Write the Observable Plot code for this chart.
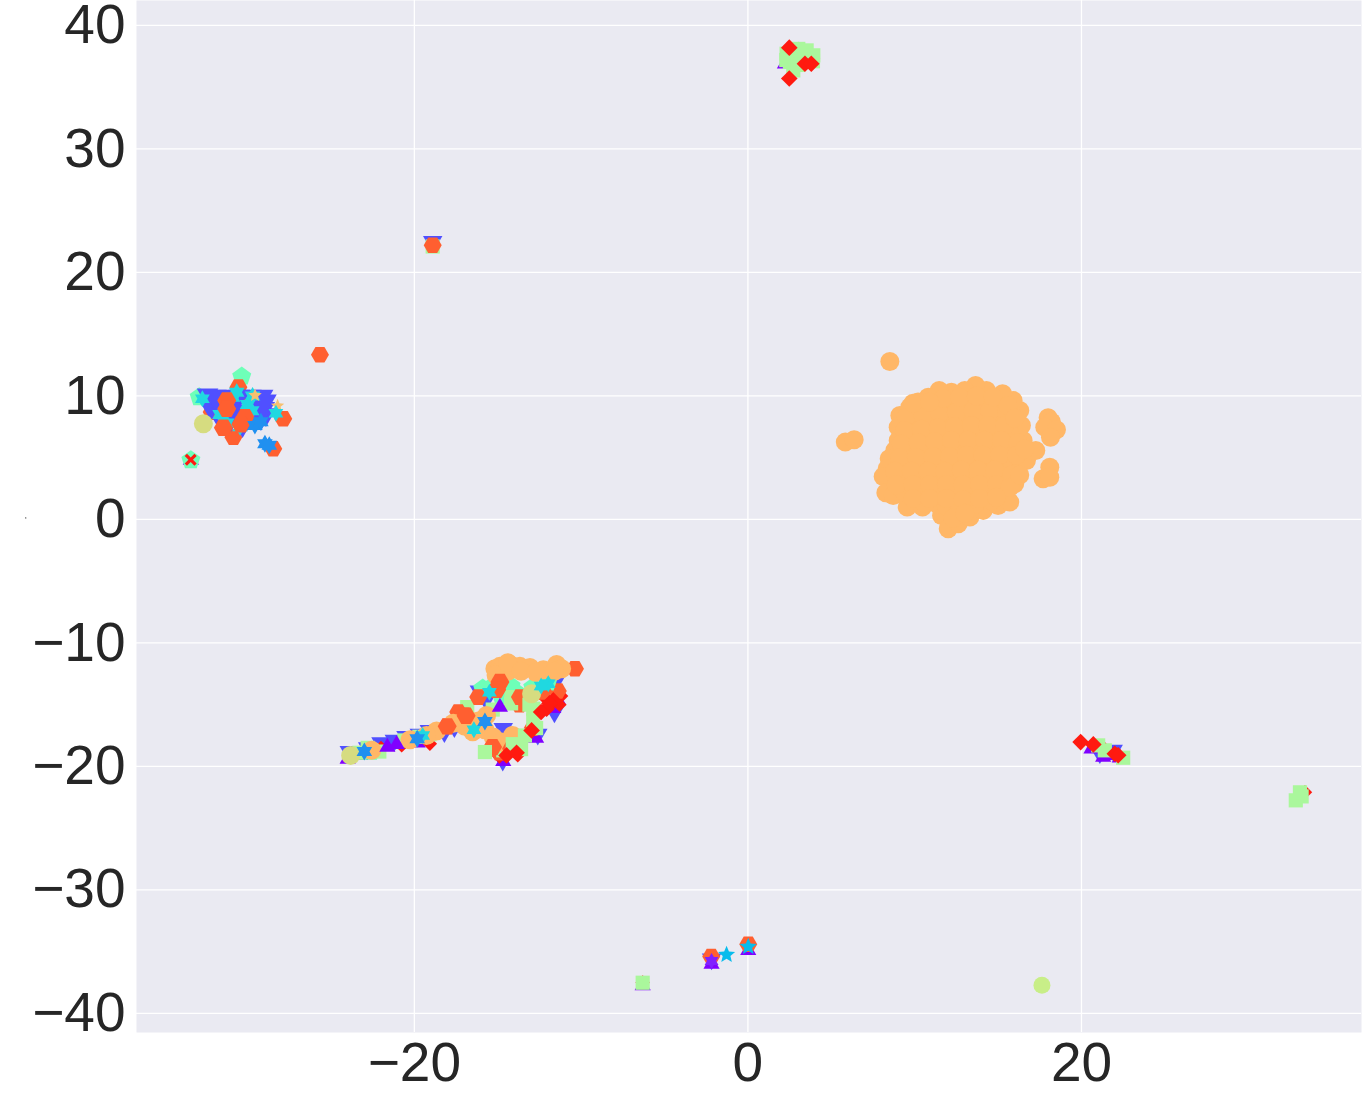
<!DOCTYPE html>
<html><head><meta charset="utf-8">
<script src="https://cdn.jsdelivr.net/npm/d3@7"></script>
<script src="https://cdn.jsdelivr.net/npm/@observablehq/plot@0.6"></script>
<style>html,body{margin:0;padding:0;background:#fff}svg{display:block}</style>
</head><body><div id="chart"></div>
<script>
const xTicks = [-20, 0, 20];
const yTicks = [-40, -30, -20, -10, 0, 10, 20, 30, 40];
const tinyMark = [[-43.3, 0.12]];

const blueDown = [[-18.9,22.5],[-2.18,-35.6],[21.9,-18.7],[21.1,-18.9],[2.6,36.9],[-13.57,-14.25],[-14.67,-16.95],[-22,-18.1],[-20.5,-17.6],[-19.7,-17.4],[-19.1,-17.1],[-23.9,-18.8],[-22.8,-18.5],[-16.1,-13.9],[-15.7,-14.6],[-11.6,-13.3],[-14.7,-19.5],[-11.6,-15.6],[-18.2,-17.2],[-12.6,-17.4],[-21.2,-17.9],[-17.6,-16.8]];
const blueLeft = [[-32.4,10.1],[-31.9,10],[-31.2,10],[-30.5,10],[-29.8,10],[-29.1,10],[-32.2,9],[-31.5,8.6],[-29.5,9.4],[-28.9,9.6],[-29.2,8.2],[-30.5,8.8],[-30,8.2],[-31,8.1],[-31.8,9.5],[-30.9,9.4],[-28.9,8.5],[-31.5,7.8],[-30.3,7.6],[-29.6,8.9],[-29,9],[-29.5,8.3]];
const purpleUp = [[-23.26,-19.1],[-24,-19.4],[-23,-18.9],[-20.4,-18],[-14.67,-19.6],[-11.67,-15.3],[-12.7,-17.7],[-19.8,-18.1],[-11.4,-14.6],[20.6,-18.57],[21.3,-19.25],[21.9,-19.1],[22.3,-19.3],[2.22,36.9],[-6.31,-37.75],[0.02,-34.9],[-2.18,-36],[-33.4,4.8]];
const redUnder = [[3.02,38.1],[3.9,37.3],[-14.9,-19.2],[-13.8,-19.1],[-6.31,-37.5],[-22,-18.5],[-20.76,-18.3],[-19.07,-18.17],[-11.2,-14.3],[-12.2,-14.4],[-11.3,-15],[33.4,-22.1],[21.4,-18.6]];
const tomatoUnder = [[-2.2,-35.4],[-11.4,-13.9],[-12.9,-16.9],[-14.9,-18.9],[-13.7,-15]];
const mintPent = [[-30.35,11.57],[-32.9,9.9],[-33.4,4.8],[-15.9,-13.7],[-15.3,-13.5],[-14.2,-13.5],[-13.9,-14],[-12,-13.2],[-12.9,-13.6],[-22.6,-18.8],[-14.8,-14.3]];
const greenSquare = [[2.32,37.71],[2.3,37.2],[2.9,38],[3.02,38.1],[3.52,37.98],[3.92,37.58],[2.72,36.36],[2.52,37.04],[3.3,37.4],[3,36.8],[3.9,37.1],[21,-18.3],[21.4,-18.7],[22.5,-19.3],[-16.83,-15.2],[-14.67,-18.7],[-14.17,-14.39],[-15.3,-15.4],[-12.87,-15.33],[-14.2,-14.9],[-20.6,-17.9],[-19.1,-17.4],[-22.8,-18.5],[-22.1,-18.8],[33.2,-22.43],[32.85,-22.75],[33.1,-22.1],[-18.9,22.1],[-6.31,-37.52],[-23.3,-18.9],[-19.7,-17.6],[-12.7,-16.9]];
const tomatoHex = [[-25.66,13.33],[-27.86,8.15],[-28.46,5.72],[-32.15,8.69],[-30.85,6.66],[-29.85,9.77],[-30.55,10.71],
  [-18.9,22.2],[0.02,-34.41],[-10.37,-12.09],[-18.03,-16.76],[-16.97,-15.87],[-17.37,-15.6],[-15.07,-13.79],[-14.87,-13.17],[-16.17,-14.39],[-15.31,-18.44],[-14.17,-18.57],[-12.27,-13.98],[-13.67,-14.39],[-16.6,-16.4]];
const orangeDot = [[9.11,8.42],[9.01,7.47],[9.01,6.39],[8.81,5.58],[8.47,4.91],[8.35,4.1],[8.11,3.48],[8.27,2.16],[8.71,1.94],[9.55,1],[10.47,1],[11.61,.32],[12.01,-.76],[12.61,-.35],[13.31,.19],[14.11,.73],[15,1.13],[15.7,1.4],[16,2.88],[16.1,4.1],[16.7,4.77],[17.26,5.58],[16.5,6.39],[16.4,7.61],[16.3,8.82],[15.9,9.63],[15.27,10.17],[14.3,10.44],[13.65,10.85],[13,10.44],[12.2,10.3],[11.47,10.44],[10.81,9.9],[10.2,9.5],[9.71,9.09],
  [10,8.9],[11,9.1],[12,9.3],[13,9.4],[14,9.5],[15,9.2],[9.9,7.8],[10.9,8],[11.9,8.1],[12.9,8.2],[13.9,8.3],[14.9,8.1],[15.7,8.3],[9.8,6.7],[10.8,6.8],[11.8,6.9],[12.8,7],[13.8,7.1],[14.8,7],[15.7,7],[9.6,5.6],[10.6,5.6],[11.6,5.7],[12.6,5.8],[13.6,5.8],[14.6,5.8],[15.6,5.8],[9.3,4.4],[10.3,4.5],[11.3,4.5],[12.3,4.5],[13.3,4.6],[14.3,4.6],[15.3,4.6],[9.1,3.3],[10.1,3.3],[11.1,3.3],[12.1,3.3],[13.1,3.4],[14.1,3.4],[15.1,3.4],[9.4,2.2],[10.4,2.2],[11.4,2.2],[12.4,2.2],[13.4,2.2],[14.4,2.2],[15.2,2.3],[10.6,1.3],[11.4,1.2],[12.7,.9],[13.6,1.2],[14.6,1.5],[11.9,1.1],[12.3,.1],
  [9.5,8.3],[10.5,8.4],[11.5,8.6],[12.5,8.7],[13.5,8.8],[14.5,8.8],[15.5,8.7],[9.4,7.2],[10.4,7.3],[11.4,7.4],[12.4,7.5],[13.4,7.6],[14.4,7.6],[15.4,7.6],[9.2,6.1],[10.2,6.2],[11.2,6.3],[12.2,6.4],[13.2,6.4],[14.2,6.4],[15.2,6.4],[16.2,6.2],[9.1,5],[10.1,5],[11.1,5.1],[12.1,5.1],[13.1,5.2],[14.1,5.2],[15.1,5.2],[16.1,5.2],[8.8,3.9],[9.8,3.9],[10.8,3.9],[11.8,3.9],[12.8,4],[13.8,4],[14.8,4],[15.8,3.6],[8.9,2.8],[9.9,2.8],[10.9,2.8],[11.9,2.8],[12.9,2.8],[13.9,2.8],[14.9,2.8],[15.7,2.6],[9.9,1.7],[10.9,1.7],[11.9,1.7],[12.9,1.6],[13.9,1.7],[14.9,1.8],[13,.5],[16.3,3.6],[16.6,5.7],[9.9,9.4],[11.7,9.8],[12.7,9.9],[13.7,10],[14.7,9.9],[15.6,9.2],[16,8.2],[10.9,9.5],
  [8.51,12.79],[5.84,6.26],[6.37,6.45],[18,8.23],[18.2,7.88],[17.8,7.47],[18.5,7.26],[18.14,6.66],[18.1,4.23],[17.7,3.29],[18.1,3.42],
  [-15.17,-12.09],[-14.87,-11.9],[-14.27,-11.74],[-13.67,-11.9],[-13.07,-12],[-12.27,-12.18],[-11.47,-11.74],[-11.17,-12.1],[-14.97,-12.36],[-14.37,-12.28],[-15.1,-12.6],[-14.4,-11.6],[-13.6,-12.3],[-12.7,-12.4],[-11.6,-12.3],
  [-18.67,-17.14],[-17.67,-16.5],[-16.97,-16.76],[-16.17,-16.33],[-15.67,-15.87],[-15.77,-17.03],[-15.27,-17.63],[-14.77,-18.03],[-14.11,-17.5],[-14.37,-18.3],[-22.56,-18.7],[-20.26,-17.84],[-19.27,-17.5],[-16.5,-17.2]];
const tomatoTop = [[-18.03,-16.76],[-14.87,-13.17],[-15.07,-13.79],[-14.17,-18.57],[-15.31,-18.44],[-16.9,-15.9],[-31.25,9.63],[-31.25,8.96],[-30.15,8.28],[-31.45,7.42],[-30.4,7.7]];
const greenOver = [[-15.77,-18.84],[-13.6,-18.6],[-14.1,-18.2],[-13.1,-15],[-12.87,-16.28],[-13.37,-17.5]];
const yellowDot = [[-32.65,7.74],[-23.82,-19.11],[-12.97,-14.12]];
const limeDot = [[17.63,-37.73]];
const redDiamond = [[2.48,38.2],[2.48,35.7],[3.42,36.9],[3.8,36.9],[19.95,-18.03],[20.71,-18.22],[22,-18.98],[22.2,-19.1],[-14.47,-19.11],[-13.87,-18.9],[-12.07,-15.33],[-11.67,-14.66],[-12.97,-17.09],[-12.4,-15.6],[-11.9,-14.9]];
const purpleUpTop = [[-14.87,-15.2],[-21.62,-18.44],[-21.06,-18.22]];
const greenTop = [[-6.31,-37.52]];
const redCross = [[-33.41,4.83]];
const cyanStar = [[-32.71,9.77],[-28.3,8.6],[-11.97,-13.3],[-16.43,-17.03],[-12.4,-13.5],[-15.5,-14],[-19.5,-17.5]];
const cyanUnder = [[-29.75,8.8],[-31.65,8.5],[-31.25,7.8],[-30.45,7.5],[-29.7,10],[-30.9,9.9],[-30,9.3],[-30.65,10.3]];
const dodgerStar = [[-28.96,6.12],[-29.56,7.6],[-29.2,7.9],[-28.7,6],[-15.77,-16.36],[-19.83,-17.76],[-23,-18.8]];
const skyStar = [[-1.28,-35.25],[0.02,-34.6]];
const purpleStar = [[-2.18,-35.76]];
const orangeBits = [[-29.55,10.04],[-28.2,9.2]];

const svgPoly = (pts) => ({draw(ctx, size) {
  const r = Math.sqrt(size / Math.PI);
  pts.forEach(([a, k], i) => {
    const x = r * k * Math.sin(a), y = -r * k * Math.cos(a);
    i ? ctx.lineTo(x, y) : ctx.moveTo(x, y);
  });
  ctx.closePath();
}});
const ring = (n, off = 0, k = 1) => d3.range(n).map(i => [off + i * 2 * Math.PI / n, k]);
const starPts = (n, inner) => d3.range(2 * n).map(i => [i * Math.PI / n, i % 2 ? inner : 1]);

const triangleUp = svgPoly([[0,1.1],[2.094,1.1],[4.189,1.1]]);
const triangleDown = svgPoly([[Math.PI,1.25],[Math.PI+2.094,1.25],[Math.PI+4.189,1.25]]);
const hexFlat = svgPoly(ring(6, Math.PI / 6));
const pentagon = svgPoly(ring(5));
const star6 = svgPoly(starPts(6, 0.58));
const star5 = svgPoly(starPts(5, 0.45));
const xMark = {draw(ctx, size) {
  const r = Math.sqrt(size / Math.PI), a = r * 0.38, b = r;
  [[-b,-b+a],[-b+a,-b],[0,-a],[b-a,-b],[b,-b+a],[a,0],[b,b-a],[b-a,b],[0,a],[-b+a,b],[-b,b-a],[-a,0]]
    .forEach(([x,y],i) => i ? ctx.lineTo(x,y) : ctx.moveTo(x,y));
  ctx.closePath();
}};

const layer = (data, symbol, fill, r) => Plot.dot(data, {x: d => d[0], y: d => d[1], symbol: () => symbol, fill, r, stroke: "none"});
const fmt = d => String(d).replace("-", "\u2212");

const plot = Plot.plot({
  width: 1362, height: 1100,
  marginLeft: 136, marginRight: 1, marginTop: 0, marginBottom: 68,
  style: {fontFamily: "'Liberation Sans', Arial, sans-serif", background: "#fff", color: "#262626"},
  x: {domain: [-36.66, 36.79], label: null},
  y: {domain: [-41.55, 42.02], label: null},
  symbol: {type: "identity"},
  marks: [
    Plot.frame({fill: "#eaeaf2", stroke: "none"}),
    Plot.gridX(xTicks, {stroke: "#fff", strokeOpacity: 1, strokeWidth: 1.3}),
    Plot.gridY(yTicks, {stroke: "#fff", strokeOpacity: 1, strokeWidth: 1.3}),
    Plot.axisX(xTicks, {tickSize: 0, tickPadding: 9, fontSize: 55, tickFormat: fmt, label: null, fill: "#262626"}),
    Plot.axisY(yTicks, {tickSize: 0, tickPadding: 11, fontSize: 55, tickFormat: fmt, label: null, fill: "#262626"}),
    Plot.dot(tinyMark, {x: d => d[0], y: d => d[1], r: 0.6, fill: "#262626"}),
    layer(blueDown, triangleDown, "#5050ff", 9),
    layer(purpleUp, triangleUp, "#8000ff", 8.5),
    layer(redUnder, "diamond2", "#ff1a10", 6.5),
    layer(tomatoUnder, hexFlat, "#ff5f30", 9),
    layer(mintPent, pentagon, "#6effb8", 10),
    layer(greenSquare, "square", "#aaf79c", 8),
    layer(tomatoHex, hexFlat, "#ff5f30", 9),
    layer(blueLeft, triangleDown, "#5050ff", 10),
    layer(cyanUnder, star6, "#20d8e0", 9),
    layer(orangeDot, "circle", "#ffb767", 9.5),
    layer(tomatoTop, hexFlat, "#ff5f30", 9.5),
    layer(greenOver, "square", "#aaf79c", 8),
    layer(yellowDot, "circle", "#d6dc80", 9.5),
    layer(limeDot, "circle", "#c8ee88", 8.5),
    layer(orangeBits, star5, "#f6c070", 7),
    layer(redDiamond, "diamond2", "#ff1a10", 7.5),
    layer(purpleUpTop, triangleUp, "#8000ff", 8.5),
    layer(greenTop, "square", "#aaf79c", 7),
    layer(redCross, xMark, "#ff1a10", 6),
    layer(cyanStar, star6, "#20d8e0", 8.5),
    layer(dodgerStar, star6, "#2090f0", 9),
    layer(skyStar, star5, "#08bcec", 9),
    layer(purpleStar, star6, "#8020ff", 8)
  ]
});
document.getElementById("chart").append(plot);
</script></body></html>
